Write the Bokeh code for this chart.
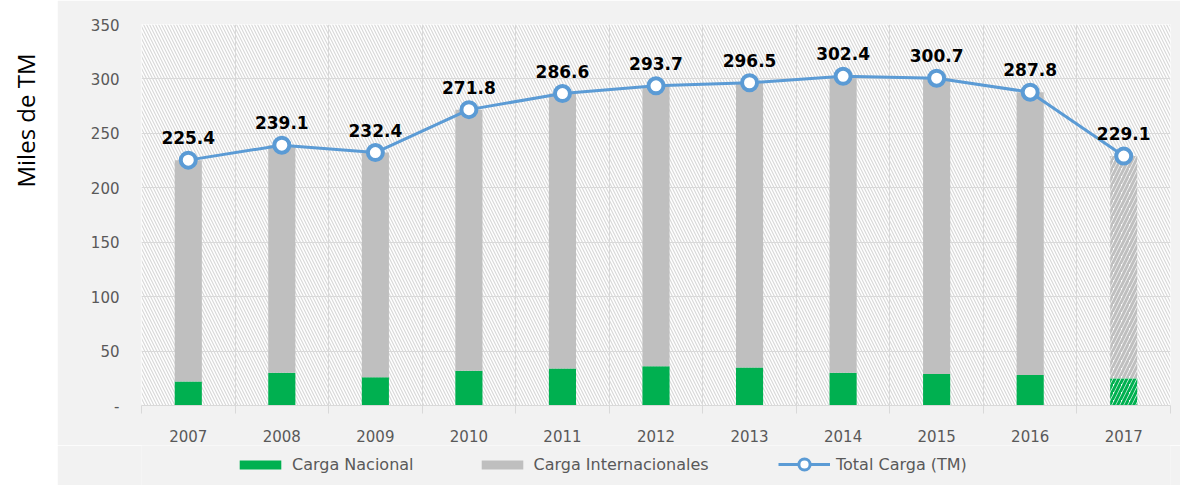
import math
from bokeh.plotting import figure
from bokeh.models import (ColumnDataSource, FixedTicker, BoxAnnotation, Legend, LegendItem,
                          LabelSet)
from bokeh.layouts import row, column
from bokeh.embed import file_html
from bokeh.resources import INLINE
from bokeh.core.properties import value

years = ["2007", "2008", "2009", "2010", "2011", "2012", "2013", "2014", "2015", "2016", "2017"]
total = [225.4, 239.1, 232.4, 271.8, 286.6, 293.7, 296.5, 302.4, 300.7, 287.8, 229.1]
nacional = [22, 30, 26, 32, 34, 36, 35, 30, 29, 28, 25]
internacional = [t - n for t, n in zip(total, nacional)]
labels = ["%.1f" % t for t in total]
y_ticks = [0, 50, 100, 150, 200, 250, 300, 350]
series_names = ["Carga Nacional", "Carga Internacionales", "Total Carga (TM)"]

xs = list(range(len(years)))
GREEN = "#00b050"
GRAY = "#bfbfbf"
BLUE = "#5b9bd5"
TXT = "#595959"
BG = "#f2f2f2"
FONT = "DejaVu Sans"


def bare(fig, bg):
    fig.axis.visible = False
    fig.grid.visible = False
    fig.outline_line_color = None
    fig.background_fill_color = bg
    fig.border_fill_color = bg


def style_legend(lgd, glyph_h):
    lgd.background_fill_alpha = 0
    lgd.border_line_color = None
    lgd.label_text_font = FONT
    lgd.label_text_font_size = "16px"
    lgd.label_text_color = TXT
    lgd.glyph_width = 52
    lgd.glyph_height = glyph_h
    lgd.spacing = 62
    lgd.label_standoff = 6
    lgd.padding = 4
    lgd.margin = 0


# ---- left white strip with the y-axis title
left = figure(width=57, height=485, x_range=(0, 1), y_range=(0, 1),
              output_backend="svg", toolbar_location=None,
              min_border_left=0, min_border_right=0, min_border_top=0, min_border_bottom=0)
bare(left, "white")
left.text(x=[25 / 57], y=[1 - 120 / 485], text=["Miles de TM"], angle=math.pi / 2,
          text_align="center", text_baseline="middle", text_font=value("Open Sans"),
          text_font_size="24px", text_color="black")

# ---- main chart
p = figure(width=1123, height=445, x_range=(-0.5, 10.5), y_range=(0, 350),
           output_backend="svg", toolbar_location=None,
           min_border_left=84, min_border_right=10, min_border_top=24, min_border_bottom=40)
p.border_fill_color = BG
p.background_fill_color = "white"
p.outline_line_color = None

p.add_layout(BoxAnnotation(fill_color="white", fill_alpha=0, hatch_pattern="\\",
                           hatch_color="#d9d9d9", hatch_scale=6, hatch_weight=1.2,
                           line_color=None, level="underlay"))

src = ColumnDataSource(dict(x=xs[:-1], nac=nacional[:-1], intl=internacional[:-1],
                            tot=total[:-1]))
src17 = ColumnDataSource(dict(x=[xs[-1]], nac=[nacional[-1]], tot=[total[-1]]))
lsrc = ColumnDataSource(dict(x=xs, tot=total, lab=labels))

W = 0.29
p.vbar(x="x", bottom=0, top="nac", width=W, source=src, fill_color=GREEN, line_color=None)
p.vbar(x="x", bottom="nac", top="tot", width=W, source=src, fill_color=GRAY, line_color=None)
p.vbar(x="x", bottom=0, top="nac", width=W, source=src17, fill_color="white", line_color=None,
       hatch_pattern="/", hatch_color=GREEN, hatch_weight=3, hatch_scale=8)
p.vbar(x="x", bottom="nac", top="tot", width=W, source=src17, fill_color="white", line_color=None,
       hatch_pattern="/", hatch_color=GRAY, hatch_weight=3, hatch_scale=8)

p.line(x="x", y="tot", source=lsrc, line_color=BLUE, line_width=3)
p.scatter(x="x", y="tot", source=lsrc, size=15, fill_color="white",
          line_color=BLUE, line_width=4)

p.add_layout(LabelSet(x="x", y="tot", text="lab", source=lsrc, text_align="center",
                      text_baseline="alphabetic", y_offset=16, text_font=value(FONT),
                      text_font_size="17px", text_font_style="bold", text_color="black"))

p.xaxis.ticker = FixedTicker(ticks=xs, minor_ticks=[i - 0.5 for i in range(len(years) + 1)])
p.xaxis.major_label_overrides = {i: y for i, y in enumerate(years)}
p.xaxis.major_tick_line_color = None
p.xaxis.minor_tick_line_color = "#d9d9d9"
p.xaxis.minor_tick_in = 0
p.xaxis.minor_tick_out = 8
p.xaxis.axis_line_color = "#d9d9d9"
p.xaxis.major_label_standoff = 16
p.xaxis.major_label_text_font = FONT
p.xaxis.major_label_text_font_size = "15px"
p.xaxis.major_label_text_color = TXT

p.yaxis.ticker = FixedTicker(ticks=y_ticks)
p.yaxis.major_label_overrides = {0: "-"}
p.yaxis.axis_line_color = None
p.yaxis.major_tick_line_color = None
p.yaxis.minor_tick_line_color = None
p.yaxis.major_label_standoff = 16
p.yaxis.major_label_text_font = FONT
p.yaxis.major_label_text_font_size = "15px"
p.yaxis.major_label_text_color = TXT

p.xgrid.ticker = FixedTicker(ticks=[i - 0.5 for i in range(len(years) + 1)])
p.xgrid.grid_line_color = "#d9d9d9"
p.ygrid.grid_line_color = "#d9d9d9"

# ---- legend strip (same styles as the series above; its sample marks sit off-range)
lg = figure(width=1123, height=40, x_range=(0, 1), y_range=(0, 1),
            output_backend="svg", toolbar_location=None,
            min_border_left=0, min_border_right=0, min_border_top=0, min_border_bottom=0)
bare(lg, BG)
g_nac = lg.vbar(x=[-5], top=[-5], width=W, fill_color=GREEN, line_color=None)
g_int = lg.vbar(x=[-5], top=[-5], width=W, fill_color=GRAY, line_color=None)
g_line = lg.line(x=[-5, -4], y=[-5, -5], line_color=BLUE, line_width=3)
g_pts = lg.scatter(x=[-5], y=[-5], size=11, fill_color="white", line_color=BLUE, line_width=3)

legend_bars = Legend(items=[
    LegendItem(label=series_names[0], renderers=[g_nac]),
    LegendItem(label=series_names[1], renderers=[g_int]),
], orientation="horizontal", location=(93, 11))
style_legend(legend_bars, 11)
lg.add_layout(legend_bars)

legend_line = Legend(items=[
    LegendItem(label=series_names[2], renderers=[g_line, g_pts]),
], orientation="horizontal", location=(637, 7))
style_legend(legend_line, 28)
lg.add_layout(legend_line)

layout = row(left, column(p, lg, spacing=0), spacing=0)
open("out.html", "w").write(file_html(layout, INLINE))
